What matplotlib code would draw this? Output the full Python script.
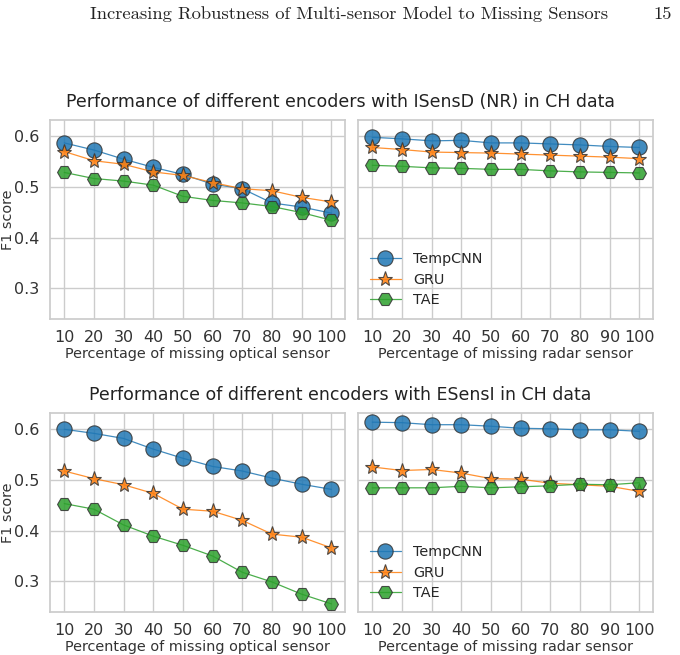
import matplotlib
matplotlib.use("Agg")
import matplotlib.pyplot as plt
import seaborn as sns

sns.set_theme(style="whitegrid")
plt.rcParams['font.family'] = ['DejaVu Sans']

pct = [10, 20, 30, 40, 50, 60, 70, 80, 90, 100]
models = ["TempCNN", "GRU", "TAE"]

# ISensD (NR) - optical missing
isensd_optical_tempcnn = [0.586, 0.572, 0.554, 0.538, 0.524, 0.505, 0.496, 0.468, 0.460, 0.448]
isensd_optical_gru = [0.569, 0.551, 0.544, 0.529, 0.522, 0.508, 0.496, 0.492, 0.479, 0.470]
isensd_optical_tae = [0.528, 0.516, 0.511, 0.503, 0.481, 0.473, 0.468, 0.461, 0.449, 0.434]
# ISensD (NR) - radar missing
isensd_radar_tempcnn = [0.597, 0.594, 0.590, 0.591, 0.586, 0.586, 0.584, 0.582, 0.579, 0.577]
isensd_radar_gru = [0.577, 0.573, 0.568, 0.567, 0.566, 0.564, 0.562, 0.560, 0.558, 0.555]
isensd_radar_tae = [0.542, 0.540, 0.537, 0.536, 0.534, 0.534, 0.531, 0.529, 0.528, 0.527]
# ESensI - optical missing
esensi_optical_tempcnn = [0.599, 0.591, 0.581, 0.560, 0.542, 0.526, 0.517, 0.503, 0.491, 0.481]
esensi_optical_gru = [0.517, 0.502, 0.490, 0.473, 0.442, 0.438, 0.420, 0.393, 0.387, 0.366]
esensi_optical_tae = [0.453, 0.442, 0.411, 0.389, 0.371, 0.350, 0.318, 0.299, 0.275, 0.256]
# ESensI - radar missing
esensi_radar_tempcnn = [0.613, 0.612, 0.608, 0.608, 0.605, 0.601, 0.600, 0.598, 0.598, 0.595]
esensi_radar_gru = [0.525, 0.518, 0.520, 0.513, 0.502, 0.501, 0.493, 0.490, 0.487, 0.477]
esensi_radar_tae = [0.484, 0.484, 0.484, 0.487, 0.484, 0.486, 0.488, 0.491, 0.490, 0.494]

titles = ["Performance of different encoders with ISensD (NR) in CH data",
          "Performance of different encoders with ESensI in CH data"]
xlabels = ["Percentage of missing optical sensor", "Percentage of missing radar sensor"]
header = "Increasing Robustness of Multi-sensor Model to Missing Sensors"
page_no = "15"

colors = ["#1f77b4", "#ff7f0e", "#2ca02c"]
markers = ["o", "*", "H"]
msizes = [11, 11, 10]

panels = [
    [[isensd_optical_tempcnn, isensd_optical_gru, isensd_optical_tae],
     [isensd_radar_tempcnn, isensd_radar_gru, isensd_radar_tae]],
    [[esensi_optical_tempcnn, esensi_optical_gru, esensi_optical_tae],
     [esensi_radar_tempcnn, esensi_radar_gru, esensi_radar_tae]],
]

W, H = 680, 655
fig = plt.figure(figsize=(W / 100, H / 100), dpi=100)

fig.text(90 / W, 1 - 14 / H, header, family="cmr10", fontsize=13.35,
         ha="left", va="center", color="#222222")
fig.text(672 / W, 1 - 14 / H, page_no, family="cmr10", fontsize=13.35,
         ha="right", va="center", color="#222222")

tops = [120, 413]
ax_h = 199
lefts = [50, 358]
ax_w = 295
title_y = [102, 395]

for r in range(2):
    for c in range(2):
        rect = [lefts[c] / W, 1 - (tops[r] + ax_h) / H, ax_w / W, ax_h / H]
        ax = fig.add_axes(rect)
        for k in range(3):
            ax.plot(pct, panels[r][c][k], color=colors[k], marker=markers[k],
                    markersize=msizes[k], markerfacecolor=colors[k],
                    markeredgecolor="#333333", markeredgewidth=0.8,
                    linewidth=0.9, alpha=0.85, label=models[k])
        ax.set_ylim(0.24, 0.631)
        ax.set_yticks([0.3, 0.4, 0.5, 0.6])
        ax.set_xticks(pct)
        ax.set_xlim(5.2, 104.6)
        ax.tick_params(axis="both", labelsize=11.5, pad=2, colors="#333333")
        ax.set_xlabel(xlabels[c], fontsize=10.4, labelpad=1, color="#333333")
        for s in ax.spines.values():
            s.set_color("#cccccc")
        if c == 0:
            ax.set_ylabel("F1 score", fontsize=10.4, color="#333333")
            ax.yaxis.set_label_coords(-35 / ax_w, 0.5)
        else:
            ax.set_yticklabels([])
            ax.legend(loc="lower left", frameon=False, fontsize=10.4,
                      markerscale=1.0, handlelength=2.2, borderaxespad=0.4,
                      labelspacing=0.45)
    fig.text(0.5, 1 - title_y[r] / H, titles[r], fontsize=12.5, ha="center",
             va="center", color="#222222")

fig.savefig("out.png", dpi=100)
